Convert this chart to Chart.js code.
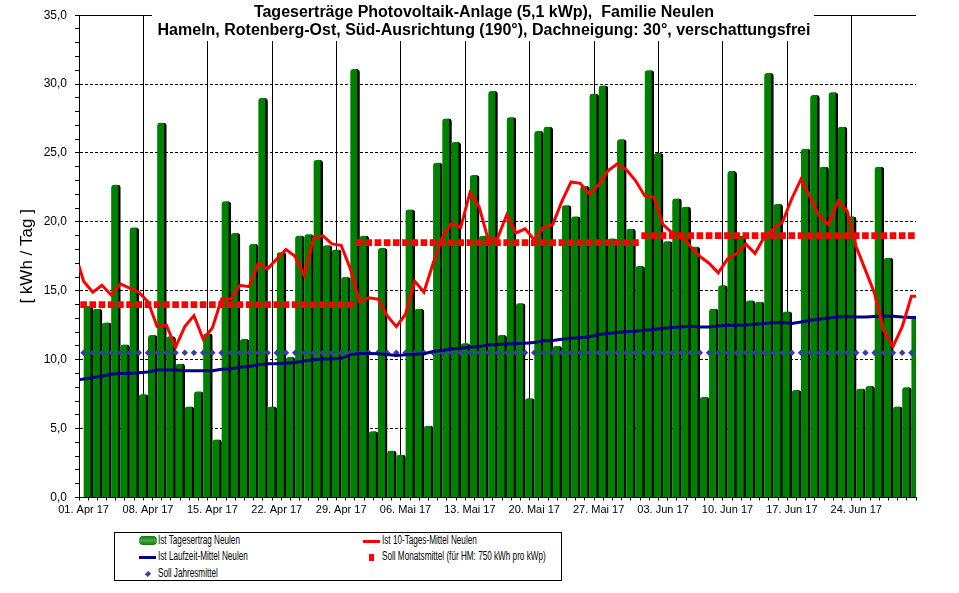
<!DOCTYPE html>
<html>
<head>
<meta charset="utf-8">
<title>Tageserträge Photovoltaik-Anlage</title>
<script src="https://cdn.jsdelivr.net/npm/chart.js@4.4.1/dist/chart.umd.min.js"></script>
<style>
  body { margin: 0; background: #fff; font-family: "Liberation Sans", Arial, sans-serif; }
  #wrap { position: relative; width: 959px; height: 593px; }
  #legende { position: absolute; left: 114px; top: 532px; width: 446px; height: 47px; border: 1px solid #000; background: #fff; }
  #legende .txt { position: absolute; font-size: 12px; line-height: 13px; white-space: nowrap; transform: scaleX(0.68); transform-origin: 0 50%; color: #000; }
  #legende .sym { position: absolute; }
</style>
</head>
<body>
<div id="wrap">
  <canvas id="chartErtrag" width="959" height="593"></canvas>
  <div id="legende">
    <div class="sym" style="left:24px; top:3px; width:18px; height:9px; border-radius:4px; background:linear-gradient(#0a7a0a, #47a847 50%, #0a7a0a);"></div>
    <div class="txt" style="left:43px; top:1px;">Ist Tagesertrag Neulen</div>
    <div class="sym" style="left:248px; top:7px; width:17px; height:3px; background:#ff0000;"></div>
    <div class="txt" style="left:267px; top:1px;">Ist 10-Tages-Mittel Neulen</div>
    <div class="sym" style="left:24px; top:23px; width:17px; height:3px; background:#000080;"></div>
    <div class="txt" style="left:43px; top:17px;">Ist Laufzeit-Mittel Neulen</div>
    <div class="sym" style="left:254px; top:21px; width:5px; height:7px; background:#ff0000;"></div>
    <div class="txt" style="left:267px; top:17px;">Soll Monatsmittel (für HM: 750 kWh pro kWp)</div>
    <div class="sym" style="left:31px; top:39px; width:4px; height:4px; background:#3a3aa8; transform:rotate(45deg) scaleY(1.2);"></div>
    <div class="txt" style="left:43px; top:34px;">Soll Jahresmittel</div>
  </div>
</div>
<script>
// Kategorien (Tage April bis Juni 2017)
const monate = ['Apr', 'Mai', 'Jun'];
const tageImMonat = [30, 31, 30];

// Ist Tagesertrag in kWh pro Tag
const tagesertrag = [
  13.9, 13.7, 12.7, 22.7, 11.1, 19.6, 7.5, 11.8, 27.2, 11.7,
  9.7, 6.6, 7.7, 11.9, 4.2, 21.5, 19.2, 11.5, 18.4, 29.0,
  6.6, 17.8, 10.2, 19.0, 19.1, 24.5, 18.3, 18.0, 16.0, 31.1,
  19.0, 4.8, 18.1, 3.4, 3.1, 20.9, 13.7, 5.2, 24.3, 27.5,
  25.8, 11.2, 23.4, 19.0, 29.5, 11.8, 27.6, 14.1, 7.2, 26.6,
  26.9, 11.0, 21.2, 20.4, 22.6, 29.3, 29.9, 18.8, 26.0, 19.5,
  16.8,
  31.0, 25.0, 18.6, 21.7, 21.1, 18.2, 7.3, 13.7, 15.4, 23.7,
  19.0, 14.3, 14.2, 30.8, 21.3, 13.5, 7.8, 25.3, 29.2, 24.0,
  29.4, 26.9, 20.4, 7.9, 8.1, 24.0, 17.4, 6.6, 8.0, 13.1
];

// Ist 10-Tages-Mittel
const mittel10 = [
  15.7, 14.9, 15.4, 14.7, 15.5, 15.2, 14.9, 14.2, 12.4, 12.5,
  10.9, 12.4, 13.2, 11.5, 12.3, 14.4, 14.4, 15.4, 15.3, 17.0,
  16.6, 17.3, 18.0, 17.5, 16.1, 18.8, 19.0, 18.4, 18.3, 16.6,
  14.2, 14.5, 14.4, 13.2, 12.4, 13.3, 15.7, 14.9, 17.0, 18.9,
  19.9, 19.6, 22.1, 21.1, 18.7, 18.8, 20.5, 19.2, 19.5, 18.7,
  19.6, 19.8, 21.5, 22.9, 22.8, 22.0, 22.7, 23.7, 24.2, 23.8,
  23.0,
  21.9, 21.8, 19.8, 19.2, 19.0, 18.2, 17.5, 17.0, 16.3, 17.3,
  17.7, 18.4, 17.7, 18.9, 19.5, 20.0, 21.7, 23.1, 21.8, 20.4,
  19.8, 21.5, 20.8, 18.2, 16.5, 14.8, 12.1, 10.95, 12.4, 14.6
];
const mittel10Rand = [16.8, 14.6]; // Linie läuft bis an den Rand

// Ist Laufzeit-Mittel
const laufzeitMittel = [
  8.6, 8.7, 8.8, 8.95, 9.0, 9.0, 9.05, 9.1, 9.25, 9.25,
  9.25, 9.2, 9.2, 9.2, 9.2, 9.3, 9.35, 9.45, 9.5, 9.64,
  9.7, 9.7, 9.75, 9.8, 9.9, 10.0, 10.05, 10.05, 10.1, 10.35,
  10.45, 10.45, 10.43, 10.38, 10.3, 10.35, 10.4, 10.43, 10.6, 10.67,
  10.78, 10.83, 10.9, 10.95, 11.07, 11.1, 11.14, 11.17, 11.19, 11.24,
  11.38, 11.4, 11.48, 11.55, 11.6, 11.67, 11.83, 11.9, 11.98, 12.02,
  12.07,
  12.14, 12.2, 12.26, 12.33, 12.38, 12.43, 12.38, 12.38, 12.45, 12.5,
  12.5, 12.52, 12.57, 12.62, 12.69, 12.7, 12.62, 12.74, 12.86, 12.93,
  13.02, 13.1, 13.14, 13.1, 13.1, 13.14, 13.17, 13.15, 13.1, 13.07
];
const laufzeitRand = [8.55, 13.07];

// Soll-Werte
const sollMonat = [14.0, 18.5, 19.0];
const sollJahr = 10.5;

const titel = [
  'Tageserträge Photovoltaik-Anlage (5,1 kWp),  Familie Neulen',
  'Hameln, Rotenberg-Ost, Süd-Ausrichtung (190°), Dachneigung: 30°, verschattungsfrei'
];

// Tage + Soll pro Tag zusammenbauen
const tage = [];
const sollMonatTag = [];
const sollJahrTag = [];
monate.forEach((m, mi) => {
  for (let d = 1; d <= tageImMonat[mi]; d++) {
    tage.push(String(d).padStart(2, '0') + '. ' + m + ' 17');
    sollMonatTag.push(sollMonat[mi]);
    sollJahrTag.push(sollJahr);
  }
});

function linienPunkte(werte, rand) {
  const pts = [{ x: 0, y: rand[0] }];
  werte.forEach((v, i) => pts.push({ x: i + 0.5, y: v }));
  pts.push({ x: werte.length, y: rand[1] });
  return pts;
}

const schrift = '"Liberation Sans", Arial, sans-serif';
Chart.defaults.font.family = schrift;
Chart.defaults.color = '#000';

// Titel liegt über der Grafik (weißer Kasten)
const titelPlugin = {
  id: 'titel',
  afterDraw(chart) {
    const { ctx, chartArea } = chart;
    ctx.save();
    ctx.strokeStyle = '#000';
    ctx.lineWidth = 1;
    ctx.beginPath();
    ctx.moveTo(chartArea.left, Math.round(chartArea.top) + 0.5);
    ctx.lineTo(chartArea.right, Math.round(chartArea.top) + 0.5);
    ctx.stroke();
    ctx.fillStyle = '#fff';
    ctx.fillRect(152, 0, 662, 41);
    ctx.fillStyle = '#000';
    ctx.font = 'bold 16px ' + schrift;
    ctx.textAlign = 'center';
    ctx.fillText(titel[0], 484, 17);
    ctx.fillText(titel[1], 484, 35);
    ctx.restore();
  }
};

const ctx = document.getElementById('chartErtrag').getContext('2d');
const chartErtrag = new Chart(ctx, {
  type: 'bar',
  data: {
    labels: tage,
    datasets: [
      {
        label: 'Ist 10-Tages-Mittel Neulen',
        type: 'line',
        xAxisID: 'xl',
        data: linienPunkte(mittel10, mittel10Rand),
        borderColor: '#ff0000',
        borderWidth: 3,
        pointRadius: 0,
        tension: 0,
        order: 1
      },
      {
        label: 'Ist Laufzeit-Mittel Neulen',
        type: 'line',
        xAxisID: 'xl',
        data: linienPunkte(laufzeitMittel, laufzeitRand),
        borderColor: '#000080',
        borderWidth: 3,
        pointRadius: 0,
        tension: 0,
        order: 2
      },
      {
        label: 'Soll Monatsmittel (für HM: 750 kWh pro kWp)',
        type: 'line',
        xAxisID: 'x',
        data: sollMonatTag,
        showLine: false,
        pointStyle: 'rect',
        pointRadius: 4.7,
        pointBackgroundColor: '#ff0000',
        pointBorderWidth: 0,
        order: 3
      },
      {
        label: 'Soll Jahresmittel',
        type: 'line',
        xAxisID: 'x',
        data: sollJahrTag,
        showLine: false,
        pointStyle: 'rectRot',
        pointRadius: 3.2,
        pointBackgroundColor: '#3a3aa8',
        pointBorderWidth: 0,
        order: 4
      },
      {
        label: 'Ist Tagesertrag Neulen',
        data: tagesertrag,
        backgroundColor: '#008000',
        borderColor: '#000',
        borderWidth: { top: 0, right: 2.5, bottom: 0, left: 0 },
        borderRadius: { topLeft: 3, topRight: 3 },
        barThickness: 9.2,
        barPercentage: 1,
        categoryPercentage: 1,
        order: 10
      }
    ]
  },
  options: {
    responsive: false,
    animation: false,
    layout: { padding: { top: 8, right: 43, left: 0, bottom: 0 } },
    plugins: {
      legend: { display: false },
      tooltip: { enabled: false },
      title: { display: false }
    },
    scales: {
      x: {
        type: 'category',
        offset: true,
        grid: {
          offset: true,
          color: (c) => (c.index % 7 === 0 ? '#000' : 'rgba(0,0,0,0)'),
          lineWidth: 1,
          tickColor: '#000',
          tickLength: 3,
          tickBorderDash: []
        },
        border: { display: true, color: '#000', width: 1 },
        ticks: {
          autoSkip: false,
          maxRotation: 0,
          minRotation: 0,
          padding: 3,
          font: { size: 11 },
          callback: function (value, index) {
            return index % 7 === 0 ? this.getLabelForValue(value) : '';
          }
        },
        afterFit: (s) => { s.height = 95.5; }
      },
      xl: {
        type: 'linear',
        display: false,
        offset: false,
        bounds: 'data',
        min: 0,
        max: tage.length
      },
      y: {
        min: 0,
        max: 35,
        grid: {
          color: (c) => {
            const v = c.tick ? c.tick.value : 0;
            return (v % 5 === 0 && v !== 0 && v !== 35) ? '#000' : 'rgba(0,0,0,0)';
          },
          lineWidth: 1,
          tickColor: '#000',
          tickLength: 4,
          tickBorderDash: []
        },
        border: { display: true, color: '#000', width: 1, dash: [3, 2] },
        ticks: {
          stepSize: 1,
          autoSkip: false,
          padding: 8,
          font: { size: 12 },
          callback: (v) => (v % 5 === 0 ? v.toFixed(1).replace('.', ',') : '')
        },
        title: {
          display: true,
          text: '[ kWh / Tag ]',
          font: { size: 17 },
          padding: { top: 17, bottom: 0 }
        },
        afterFit: (s) => { s.width = 79; }
      }
    }
  },
  plugins: [titelPlugin]
});
</script>
</body>
</html>
